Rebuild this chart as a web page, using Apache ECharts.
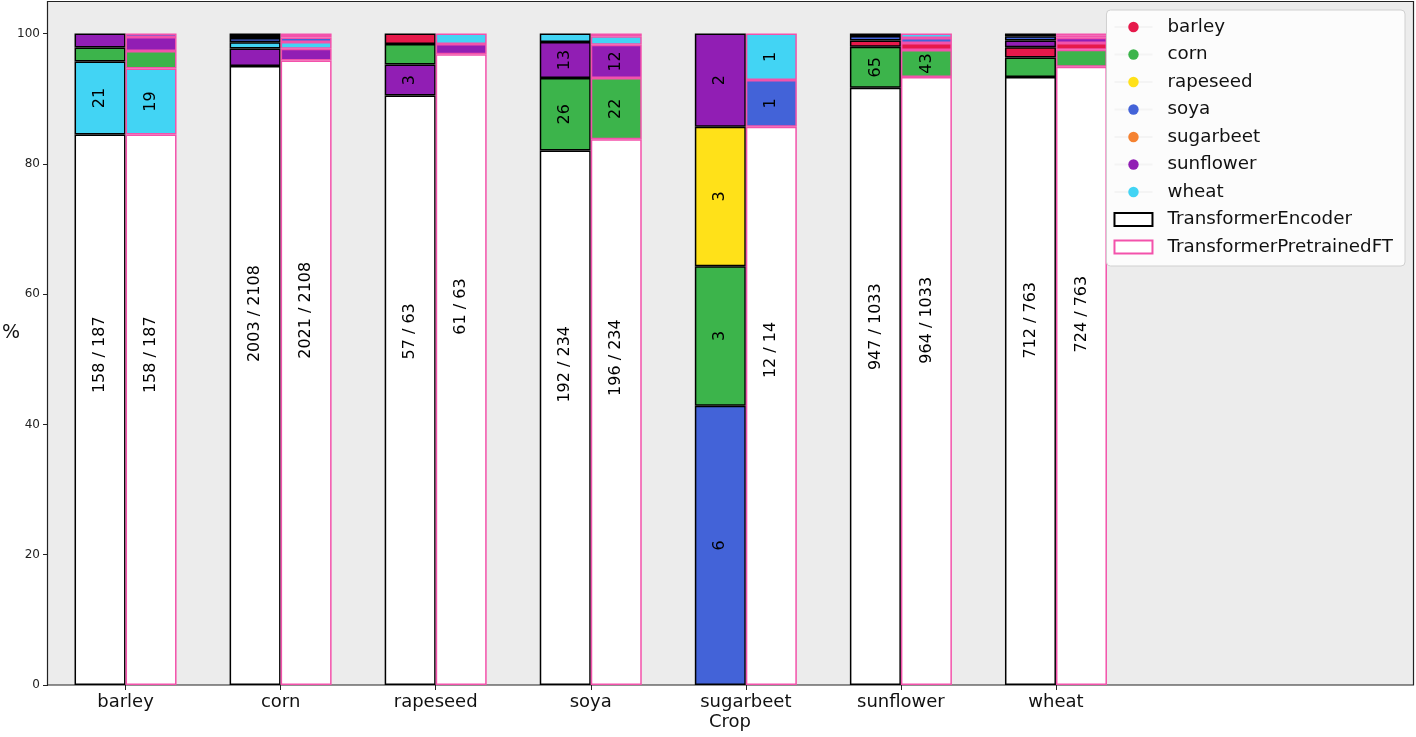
<!DOCTYPE html>
<html>
<head>
<meta charset="utf-8">
<script src="https://cdn.jsdelivr.net/npm/echarts@6/dist/echarts.min.js"></script>
<style>
  html, body { margin: 0; padding: 0; background: #fff; }
  #chart { width: 1416px; height: 737px; }
</style>
</head>
<body>
<div id="chart"></div>
<script>
// ===== data =====
const crops = ['barley', 'corn', 'rapeseed', 'soya', 'sugarbeet', 'sunflower', 'wheat'];
const classColors = ['#e6194b', '#3cb44b', '#ffe119', '#4363d8', '#f58231', '#911eb4', '#42d4f4'];
const yTicks = [0, 20, 40, 60, 80, 100];

// rows = true crop, columns = predicted class (same order as crops)
const encoderCounts = [
  [158, 4, 0, 0, 0, 4, 21],
  [9, 2003, 5, 14, 0, 57, 20],
  [1, 2, 57, 0, 0, 3, 0],
  [0, 26, 0, 192, 0, 13, 3],
  [0, 3, 3, 6, 0, 2, 0],
  [10, 65, 0, 7, 0, 947, 4],
  [12, 23, 3, 5, 0, 8, 712]
];
const pretrainedCounts = [
  [158, 5, 0, 1, 0, 4, 19],
  [8, 2021, 5, 14, 0, 38, 22],
  [0, 0, 61, 0, 0, 1, 1],
  [1, 22, 0, 196, 0, 12, 3],
  [0, 0, 0, 1, 12, 0, 1],
  [11, 43, 0, 8, 0, 964, 7],
  [8, 20, 2, 3, 0, 6, 724]
];

const FONT = 'DejaVu Sans';

// 每个柱子：底部白色=正确，上面按错分数量从大到小堆叠
function buildStack(counts, modelName, stackId, edgeColor) {
  const ranked = counts.map((row, i) => {
    const total = row.reduce((a, b) => a + b, 0);
    const miss = row
      .map((c, j) => ({ c, j }))
      .filter(d => d.j !== i && d.c > 0)
      .sort((a, b) => b.c - a.c || a.j - b.j);
    return { total, correct: row[i], miss };
  });
  const nRanks = 1 + Math.max(...ranked.map(r => r.miss.length));
  const series = [];
  for (let k = 0; k < nRanks; k++) {
    const data = ranked.map(r => {
      if (k === 0) {
        if (!r.correct) return '-';
        return {
          value: r.correct / r.total * 100,
          itemStyle: { color: '#fff' },
          label: {
            show: true,
            formatter: r.correct + ' / ' + r.total,
            position: ['50%', '40%'],
            align: 'center',
            verticalAlign: 'middle'
          }
        };
      }
      const m = r.miss[k - 1];
      if (!m) return '-';
      const pct = m.c / r.total * 100;
      return {
        value: pct,
        itemStyle: { color: classColors[m.j] },
        label: { show: pct >= 4, formatter: String(m.c) }
      };
    });
    series.push({
      type: 'bar',
      name: modelName,
      stack: stackId,
      barWidth: 51,
      barGap: '0%',
      itemStyle: { color: '#fff', borderColor: edgeColor, borderWidth: 1.5 },
      label: {
        show: false, rotate: 90, position: 'inside',
        color: '#000', fontSize: 16, fontFamily: FONT
      },
      emphasis: { disabled: true },
      data
    });
  }
  return series;
}

// 图例用的空系列（圆点）
const classSeries = crops.map((c, i) => ({
  type: 'line',
  name: c,
  data: [],
  symbol: 'circle',
  itemStyle: { color: classColors[i] },
  lineStyle: { color: '#f4f4f4', width: 2 }
}));

const chart = echarts.init(document.getElementById('chart'), null, { renderer: 'canvas' });
chart.setOption({
  animation: false,
  backgroundColor: '#fff',
  textStyle: { fontFamily: FONT },
  grid: { left: 48, right: 282.5, top: 1, bottom: 52, containLabel: false, outerBoundsMode: 'none' },
  graphic: [{
    type: 'rect',
    silent: true,
    z: -1,
    shape: { x: 47.5, y: 1.5, width: 1366, height: 683.5 },
    style: { fill: '#ececec', stroke: '#222', lineWidth: 1.2 }
  }],
  title: {
    text: 'Crop',
    left: 709,
    top: 713,
    padding: 0,
    textStyle: { fontSize: 18, fontWeight: 'normal', color: '#111', fontFamily: FONT }
  },
  legend: {
    orient: 'vertical',
    right: 11,
    top: 10,
    itemWidth: 38,
    itemHeight: 13,
    itemGap: 9.5,
    padding: [8, 12, 10, 7],
    backgroundColor: 'rgba(255,255,255,0.85)',
    borderColor: '#d0d0d0',
    borderWidth: 1,
    borderRadius: 4,
    selectedMode: false,
    textStyle: { fontSize: 18.3, fontFamily: FONT, color: '#111', padding: [0, 0, 0, 10] },
    data: crops.concat([
      { name: 'TransformerEncoder', icon: 'rect' },
      { name: 'TransformerPretrainedFT', icon: 'rect' }
    ])
  },
  xAxis: {
    type: 'category',
    data: crops,
    axisLine: { show: false },
    axisTick: { show: true, alignWithLabel: true, length: 5, lineStyle: { color: '#222' } },
    axisLabel: { fontSize: 18, color: '#111', margin: 8, fontFamily: FONT }
  },
  yAxis: {
    type: 'value',
    min: 0,
    max: 105,
    interval: 20,
    name: '%',
    nameLocation: 'middle',
    nameRotate: 0,
    nameGap: 28,
    nameMoveOverlap: false,
    nameTextStyle: { fontSize: 19, color: '#111', fontFamily: FONT, verticalAlign: 'bottom' },
    axisLine: { show: false },
    splitLine: { show: false },
    axisTick: { show: true, length: 5, customValues: yTicks, lineStyle: { color: '#222' } },
    axisLabel: { fontSize: 12, color: '#222', margin: 8, customValues: yTicks, fontFamily: FONT }
  },
  series: []
    .concat(buildStack(encoderCounts, 'TransformerEncoder', 'TE', '#000'))
    .concat(buildStack(pretrainedCounts, 'TransformerPretrainedFT', 'PF', '#f352ab'))
    .concat(classSeries)
});
</script>
</body>
</html>
